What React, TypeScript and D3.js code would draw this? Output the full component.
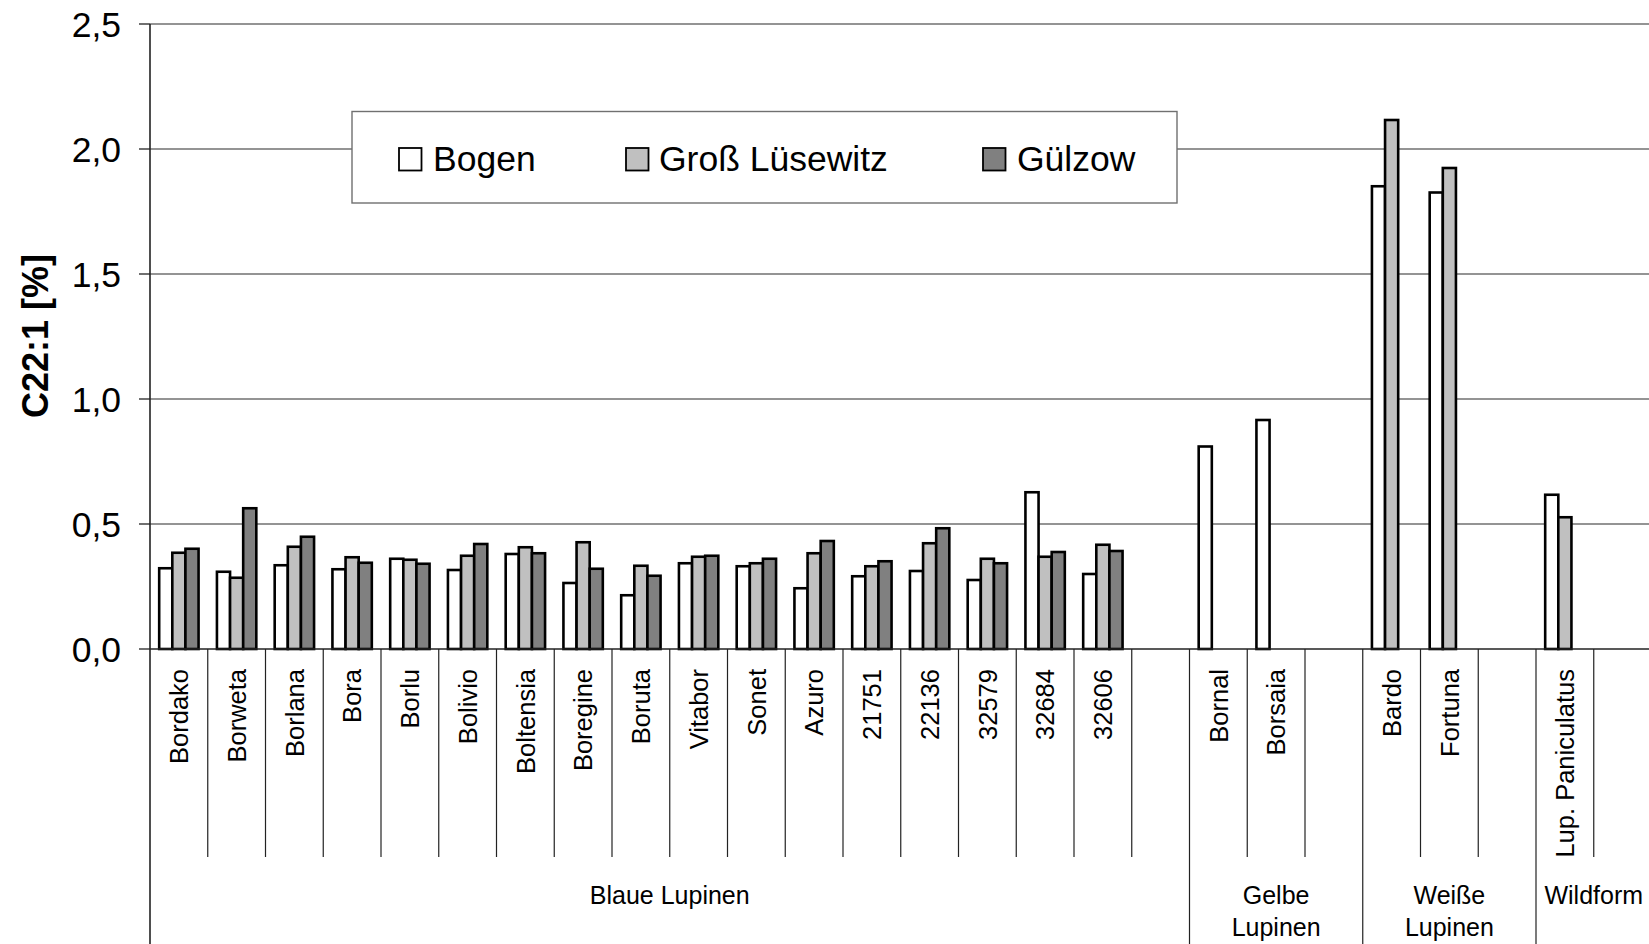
import React from "react";
import * as d3 from "d3";

const categories = [
  "Bordako", "Borweta", "Borlana", "Bora", "Borlu", "Bolivio", "Boltensia", "Boregine",
  "Boruta", "Vitabor", "Sonet", "Azuro", "21751", "22136", "32579", "32684", "32606", "",
  "Bornal", "Borsaia", "",
  "Bardo", "Fortuna", "",
  "Lup. Paniculatus", "",
];

const bogen = [
  0.323, 0.309, 0.335, 0.319, 0.361, 0.316, 0.38, 0.264, 0.215, 0.343, 0.331, 0.243, 0.291,
  0.312, 0.276, 0.627, 0.3, null, 0.81, 0.916, null, 1.851, 1.826, null, 0.617, null,
];
const grossLuesewitz = [
  0.385, 0.285, 0.409, 0.367, 0.357, 0.373, 0.407, 0.427, 0.333, 0.369, 0.343, 0.383, 0.331,
  0.423, 0.361, 0.369, 0.417, null, null, null, null, 2.116, 1.924, null, 0.527, null,
];
const guelzow = [
  0.401, 0.563, 0.449, 0.345, 0.341, 0.42, 0.383, 0.321, 0.293, 0.373, 0.361, 0.432, 0.351,
  0.483, 0.343, 0.388, 0.392, null, null, null, null, null, null, null, null, null,
];

const seriesNames = ["Bogen", "Groß Lüsewitz", "Gülzow"];
const seriesColors = ["#ffffff", "#c0c0c0", "#808080"];

const groupLabels = [["Blaue Lupinen"], ["Gelbe", "Lupinen"], ["Weiße", "Lupinen"], ["Wildform"]];
const groupSizes = [18, 3, 3, 2];

const yTicks = [0, 0.5, 1.0, 1.5, 2.0, 2.5];

const W = 1649;
const H = 944;
const FONT = "'Liberation Sans', Arial, Helvetica, sans-serif";

export default function App() {
  const x0 = 150;
  const bandW = 57.75;
  const x = d3
    .scaleBand<number>()
    .domain(categories.map((_, i) => i))
    .range([x0, x0 + bandW * categories.length])
    .paddingInner(0)
    .paddingOuter(0);
  const y = d3.scaleLinear().domain([0, 2.5]).range([649, 24]);

  const barW = x.bandwidth() / (3 + 1.4);
  const barOff = barW * 0.7;
  const series = [bogen, grossLuesewitz, guelzow];
  const fmt = (v: number) => d3.format(".1f")(v).replace(".", ",");

  const groupStarts: number[] = [];
  let acc = 0;
  groupSizes.forEach((s) => {
    groupStarts.push(acc);
    acc += s;
  });
  const groupBoundaryIdx = new Set<number>([...groupStarts, acc]);

  const xEnd = x0 + bandW * categories.length;
  const baseY = y(0);

  return (
    <svg
      width={W}
      height={H}
      style={{ position: "absolute", left: 0, top: 0, background: "#fff" }}
      fontFamily={FONT}
    >
      <rect x={0} y={0} width={W} height={H} fill="#fff" />
      {yTicks.map((t) =>
        t === 0 ? null : (
          <line key={"g" + t} x1={x0} x2={xEnd} y1={y(t)} y2={y(t)} stroke="#707070" strokeWidth={1.4} />
        )
      )}
      {yTicks.map((t) => (
        <g key={"t" + t}>
          <line x1={139} x2={x0} y1={y(t)} y2={y(t)} stroke="#333" strokeWidth={1.4} />
          <text x={121} y={y(t)} dy="0.36em" textAnchor="end" fontSize={35.5} fill="#000">
            {fmt(t)}
          </text>
        </g>
      ))}
      <text
        transform={`translate(48,336) rotate(-90)`}
        textAnchor="middle"
        fontSize={36}
        fontWeight="bold"
        fill="#000"
      >
        C22:1 [%]
      </text>

      <rect x={352} y={111.5} width={825} height={91.5} fill="#fff" stroke="#707070" strokeWidth={1.4} />
      {seriesNames.map((n, i) => {
        const sx = [399, 626, 983][i];
        const tx = [433, 659, 1017][i];
        return (
          <g key={n}>
            <rect x={sx} y={148} width={22.5} height={22.5} fill={seriesColors[i]} stroke="#000" strokeWidth={1.8} />
            <text x={tx} y={171} fontSize={35.5} fill="#000">
              {n}
            </text>
          </g>
        );
      })}

      {categories.map((c, i) =>
        series.map((s, k) => {
          const v = s[i];
          if (v == null) return null;
          const bx = (x(i) as number) + barOff + k * barW;
          return (
            <rect
              key={`b${i}-${k}`}
              x={bx}
              y={y(v)}
              width={barW}
              height={baseY - y(v)}
              fill={seriesColors[k]}
              stroke="#000"
              strokeWidth={2.6}
            />
          );
        })
      )}

      <line x1={x0} x2={xEnd} y1={baseY} y2={baseY} stroke="#222" strokeWidth={1.6} />
      <line x1={x0} x2={x0} y1={y(2.5)} y2={H} stroke="#222" strokeWidth={1.6} />

      {d3.range(1, categories.length + 1).map((i) => {
        const bx = x0 + i * bandW;
        const isGroup = groupBoundaryIdx.has(i);
        return (
          <line
            key={"s" + i}
            x1={bx}
            x2={bx}
            y1={baseY}
            y2={isGroup ? H : 857}
            stroke="#222"
            strokeWidth={1.2}
          />
        );
      })}

      {categories.map((c, i) =>
        c ? (
          <text
            key={"c" + i}
            transform={`translate(${(x(i) as number) + x.bandwidth() / 2},669) rotate(-90)`}
            dy="0.36em"
            textAnchor="end"
            fontSize={25.5}
            fill="#000"
          >
            {c}
          </text>
        ) : null
      )}

      {groupLabels.map((lines, g) => {
        const start = x0 + groupStarts[g] * bandW;
        const end = start + groupSizes[g] * bandW;
        const cx = (start + end) / 2;
        return (
          <text key={"gl" + g} x={cx} y={904} textAnchor="middle" fontSize={25} fill="#000">
            {lines.map((l, j) => (
              <tspan key={j} x={cx} dy={j === 0 ? 0 : 32}>
                {l}
              </tspan>
            ))}
          </text>
        );
      })}
    </svg>
  );
}
